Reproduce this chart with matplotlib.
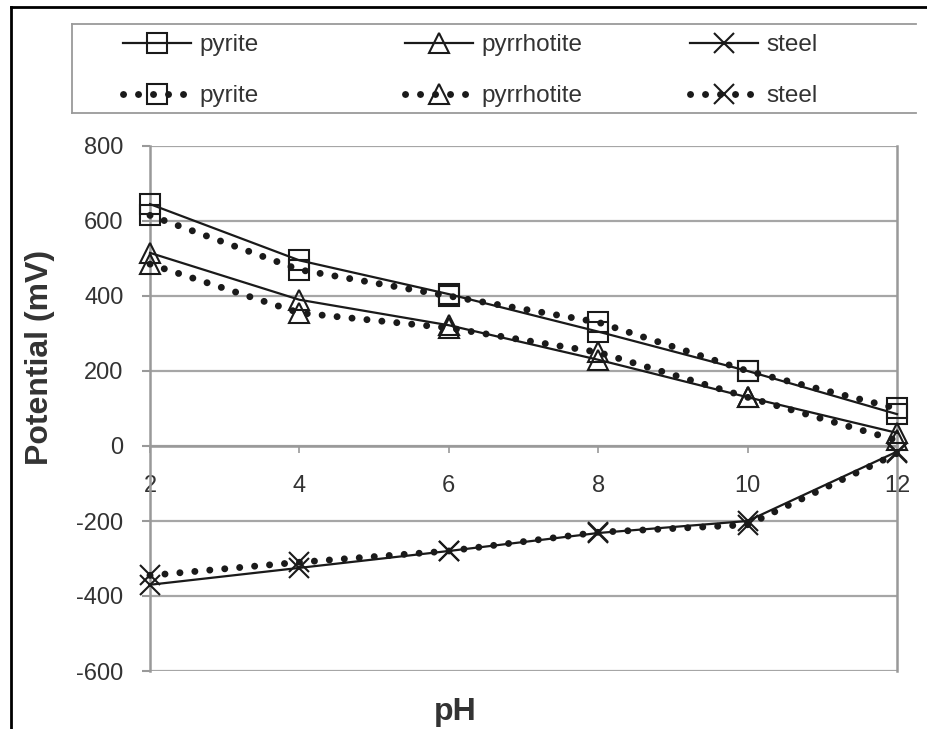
import matplotlib
matplotlib.use('Agg')
import matplotlib.pyplot as plt
from matplotlib.lines import Line2D

plt.rcParams['font.family'] = ['Liberation Sans', 'DejaVu Sans']
plt.rcParams['axes.unicode_minus'] = False

# data
ph = [2, 4, 6, 8, 10, 12]

pyrite_solid = [645, 495, 405, 305, 200, 85]
pyrite_dotted = [615, 470, 400, 330, 200, 100]
pyrrhotite_solid = [515, 390, 322, 230, 130, 35]
pyrrhotite_dotted = [485, 355, 315, 250, 130, 15]
steel_solid = [-370, -325, -280, -232, -200, -15]
steel_dotted = [-345, -310, -280, -230, -210, -20]

names = ['pyrite', 'pyrrhotite', 'steel']
markers = ['s', '^', 'x']
marker_sizes = [14, 15, 15]
y_ticks = [-600, -400, -200, 0, 200, 400, 600, 800]

W, H = 928, 729
fig = plt.figure(figsize=(W / 100, H / 100), dpi=100)
ax = fig.add_axes([150 / W, 1 - 671 / H, (897 - 150) / W, (671 - 146) / H])

GRID = '#a6a6a6'
TXT = '#333333'

series = [(pyrite_solid, pyrite_dotted), (pyrrhotite_solid, pyrrhotite_dotted),
          (steel_solid, steel_dotted)]

handles = []
for (solid, dotted), mk, ms in zip(series, markers, marker_sizes):
    h1, = ax.plot(ph, solid, color='#1a1a1a', lw=1.6, marker=mk, ms=ms,
                  mfc='none', mec='#1a1a1a', mew=1.5, clip_on=False, zorder=4)
    h2, = ax.plot(ph, dotted, color='#1a1a1a', lw=5,
                  linestyle=(0, (0.01, 2.15)), dash_capstyle='round',
                  marker=mk, ms=ms, mfc='none', mec='#1a1a1a', mew=1.5,
                  clip_on=False, zorder=3)
    handles.append((h1, h2))

ax.set_xlim(2, 12)
ax.set_ylim(-600, 800)
ax.set_xticks(ph)
ax.set_yticks(y_ticks)
ax.grid(axis='y', color=GRID, lw=1.6)
ax.set_axisbelow(True)

ax.spines['top'].set_visible(False)
ax.spines['bottom'].set_position(('data', 0))
for s in ['left', 'right', 'bottom']:
    ax.spines[s].set_color('#999999')
    ax.spines[s].set_linewidth(1.8)

ax.tick_params(axis='y', length=6, width=1.5, color='#999999', pad=13,
               labelsize=17, labelcolor=TXT)
ax.tick_params(axis='x', length=5, width=1.2, color='#999999', pad=16,
               labelsize=17, labelcolor=TXT)

fig.text(40 / W, 1 - 357 / H, 'Potential (mV)', rotation=90, fontsize=23,
         fontweight='bold', color=TXT, ha='center', va='center')
fig.text(455 / W, 1 - 720 / H, 'pH', fontsize=23, fontweight='bold',
         color=TXT, ha='center', va='baseline')

# legend: one small legend per material, placed in the open box on top
for (h1, h2), name, x0 in zip(handles, names, [123, 405, 690]):
    fig.legend([h1, h2], [name, name], loc='upper left',
               bbox_to_anchor=(x0 / W, 1 - 34 / H), frameon=False,
               fontsize=17.5, handlelength=2.8, handletextpad=0.35,
               borderpad=0, borderaxespad=0, labelspacing=1.2,
               labelcolor=TXT)

# legend box (no right edge) and the outer frame
box = '#9a9a9a'
fig.add_artist(Line2D([72 / W, 916 / W], [1 - 24 / H] * 2, color=box, lw=1.3))
fig.add_artist(Line2D([72 / W, 916 / W], [1 - 113 / H] * 2, color=box, lw=1.3))
fig.add_artist(Line2D([72 / W] * 2, [1 - 24 / H, 1 - 113 / H], color=box, lw=1.3))
fig.add_artist(Line2D([11 / W, 1], [1 - 7 / H] * 2, color='black', lw=2))
fig.add_artist(Line2D([11 / W] * 2, [0, 1 - 7 / H], color='black', lw=2))

fig.savefig('out.png', dpi=100)
